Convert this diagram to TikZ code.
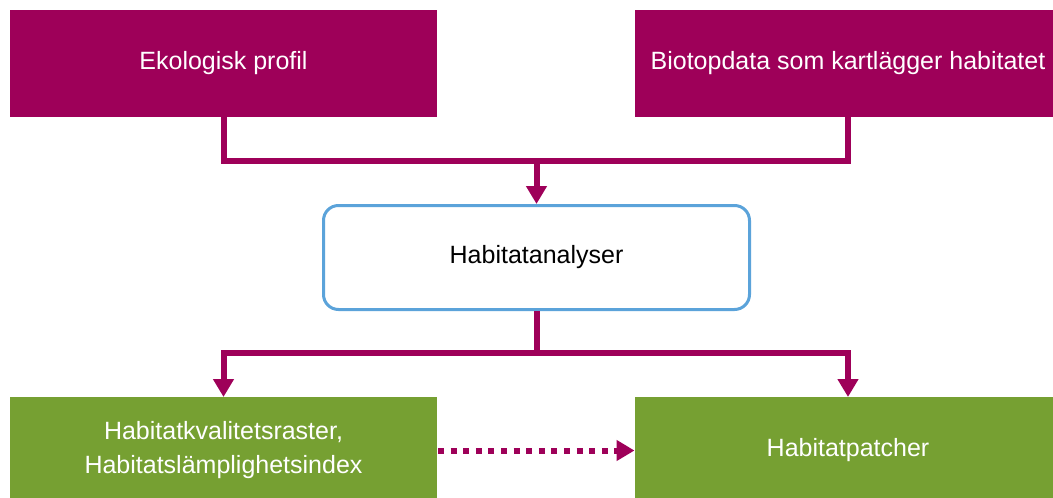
\documentclass[tikz,border=0pt]{standalone}
\usepackage{fontspec}
\setmainfont{Liberation Sans}
\usetikzlibrary{arrows.meta}
\definecolor{plum}{RGB}{158,0,89}
\definecolor{leaf}{RGB}{118,160,50}
\definecolor{sky}{RGB}{91,163,218}
\begin{document}
\begin{tikzpicture}[x=1pt,y=-1pt,
  every node/.style={inner sep=0pt,outer sep=0pt,align=center,
    font=\fontsize{25}{34}\selectfont},
  srcbox/.style={fill=plum,text=white,minimum width=427pt,minimum height=107pt},
  resbox/.style={fill=leaf,text=white,minimum width=427pt,minimum height=107pt},
  procbox/.style={draw=sky,line width=3pt,fill=white,text=black,rounded corners=15pt,
    minimum width=426pt,minimum height=104pt,outer sep=1.5pt},
  flow/.style={draw=plum,line width=6pt,line join=miter},
  tip/.style={-{Triangle[length=18pt,width=20pt]}}
]
\useasboundingbox (0,0) rectangle (1053,498);
\clip (0,0) rectangle (1053,498);

% input data
\node[srcbox] (ek)  at (223.5,63.5) {Ekologisk profil};
\node[srcbox] (bio) at (848,63.5)   {Biotopdata som kartlägger habitatet};

% analysis step
\node[procbox] (ana) at (536.5,257.5) {Habitatanalyser};

% results
\node[resbox] (hk) at (223.5,450.5) {Habitatkvalitetsraster,\\Habitatslämplighetsindex};
\node[resbox] (hp) at (848,450.5)   {Habitatpatcher};

% junctions
\coordinate (j1) at (536.5,161);
\coordinate (j2) at (536.5,353);

% inputs merge into the analysis
\draw[flow] (ek.south) |- (j1) -| (bio.south);
\draw[flow,tip] (j1) -- (ana.north);

% analysis splits into the results
\draw[flow] (ana.south) -- (j2);
\draw[flow,tip] (j2) -| (hk.north);
\draw[flow,tip] (j2) -| (hp.north);

% derived relation between the results
\draw[draw=plum,line width=6pt,dash pattern=on 6pt off 6.6pt,tip]
  ([xshift=1pt]hk.east) -- (hp.west);
\end{tikzpicture}
\end{document}
